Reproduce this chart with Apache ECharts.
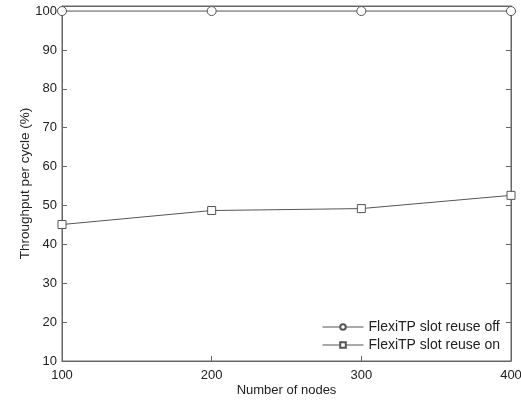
<!DOCTYPE html>
<html>
<head>
<meta charset="utf-8">
<script src="https://cdn.jsdelivr.net/npm/echarts@6/dist/echarts.min.js"></script>
<style>
  html, body { margin: 0; padding: 0; background: #fff; }
  #chart { width: 521px; height: 400px; }
</style>
</head>
<body>
<div id="chart"></div>
<script>
const nodes = [100, 200, 300, 400]
const reuseOff = [100, 100, 100, 100]
const reuseOn = [45.1, 48.7, 49.2, 52.6]
const xTicks = [100, 200, 300, 400]

const axisColor = '#666'
const lineColor = '#555'
const textColor = '#222'
const font = 'Liberation Sans, Arial, sans-serif'

const chart = echarts.init(document.getElementById('chart'))

const baseX = {
  type: 'value',
  min: 100,
  max: 400,
  interval: 100,
  axisLine: { onZero: false, lineStyle: { color: axisColor } },
  axisTick: { inside: true, length: 5, lineStyle: { color: axisColor } },
  splitLine: { show: false }
}
const baseY = {
  type: 'value',
  min: 10,
  max: 101.3,
  interval: 10,
  axisLine: { onZero: false, lineStyle: { color: axisColor } },
  axisTick: { inside: true, length: 5, lineStyle: { color: axisColor } },
  splitLine: { show: false }
}

chart.setOption({
  animation: false,
  textStyle: { fontFamily: font },
  grid: {
    left: 62,
    right: 10,
    top: 6,
    bottom: 39,
    outerBoundsMode: 'none',
    containLabel: false,
    show: true,
    borderColor: axisColor,
    borderWidth: 1
  },
  legend: {
    left: 317,
    top: 315,
    orient: 'vertical',
    itemWidth: 41,
    itemHeight: 7,
    itemGap: 4,
    lineStyle: { width: 1 },
    textStyle: { fontSize: 14, color: textColor, fontFamily: font },
    data: ['FlexiTP slot reuse off', 'FlexiTP slot reuse on']
  },
  xAxis: [
    Object.assign({}, baseX, {
      position: 'bottom',
      name: 'Number of nodes',
      nameLocation: 'middle',
      nameGap: 23,
      nameMoveOverlap: false,
      nameTextStyle: { fontSize: 13, color: textColor },
      axisLabel: {
        fontSize: 13,
        color: textColor,
        margin: 8,
        formatter: v => (xTicks.indexOf(v) >= 0 ? String(v) : '')
      }
    }),
    Object.assign({}, baseX, { position: 'top', axisLabel: { show: false } })
  ],
  yAxis: [
    Object.assign({}, baseY, {
      position: 'left',
      name: 'Throughput per cycle (%)',
      nameLocation: 'middle',
      nameGap: 30,
      nameMoveOverlap: false,
      nameTextStyle: { fontSize: 13.5, color: textColor },
      axisLabel: { fontSize: 13, color: textColor, margin: 5, showMaxLabel: false }
    }),
    Object.assign({}, baseY, { position: 'right', axisLabel: { show: false } })
  ],
  series: [
    {
      name: 'FlexiTP slot reuse off',
      type: 'line',
      data: nodes.map((n, i) => [n, reuseOff[i]]),
      symbol: 'circle',
      symbolSize: 9,
      clip: false,
      lineStyle: { color: lineColor, width: 1 },
      itemStyle: { color: '#fff', borderColor: lineColor, borderWidth: 1 }
    },
    {
      name: 'FlexiTP slot reuse on',
      type: 'line',
      data: nodes.map((n, i) => [n, reuseOn[i]]),
      symbol: 'rect',
      symbolSize: 8,
      clip: false,
      lineStyle: { color: lineColor, width: 1 },
      itemStyle: { color: '#fff', borderColor: lineColor, borderWidth: 1 }
    }
  ]
})
</script>
</body>
</html>
